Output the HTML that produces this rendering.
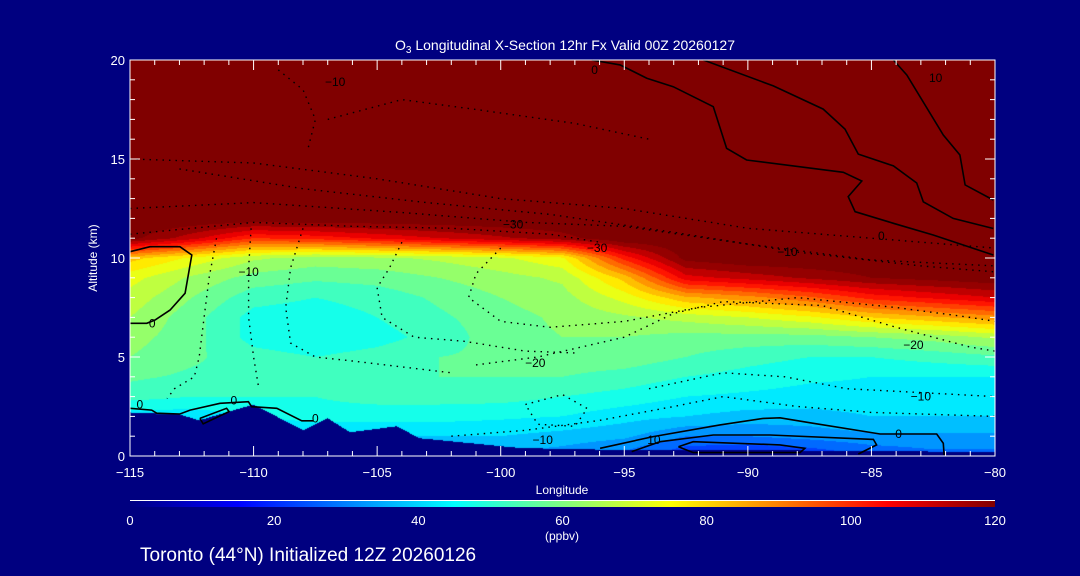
<!DOCTYPE html>
<html><head><meta charset="utf-8">
<style>
html,body{margin:0;padding:0;background:#000080;}
#wrap{position:relative;width:1080px;height:576px;background:#000080;overflow:hidden;font-family:"Liberation Sans",sans-serif;color:#fff;}
canvas{position:absolute;left:130px;top:60px;}
svg{position:absolute;left:0;top:0;}
</style></head>
<body>
<div id="wrap">
<canvas id="cv" width="865" height="396"></canvas>
<svg id="sv" width="1080" height="576"></svg>
</div>
<script>
// ---- data ----
const lons = [-115,-112.5,-110,-107.5,-105,-102.5,-100,-97.5,-95,-92.5,-90,-87.5,-85,-82.5,-80];
const alts = [0,1,2,3,4,5,6,7,8,9,10,11,12,20];
const r0 = [25,25,30,30,32,34,34,32,28,20,18,20,25,28,28];
const r1 = [32,33,36,38,40,40,40,38,36,30,30,32,34,34,34];
const r2 = [42,42,45,48,47,47,46,45,42,40,38,38,40,40,40];
const r3 = [52,50,50,50,52,52,52,50,48,45,44,43,43,42,42];
const r4 = [56,54,54,52,54,55,55,55,53,50,48,46,45,45,45];
const r5 = [60,56,52,50,52,55,56,58,58,55,52,50,50,52,54];
const r6 = [62,57,48,46,48,52,58,60,60,58,58,58,60,62,66];
const r7 = [65,57,48,47,50,54,58,61,64,67,70,74,80,84,88];
const r8 = [68,60,52,50,52,56,60,63,72,84,88,94,102,106,110];
const r9 = [72,64,58,56,57,60,63,66,82,108,112,116,120,122,124];
const r10 = [82,74,66,63,64,66,69,74,102,122,125,125,125,125,125];
const r11 = [122,112,100,102,106,110,114,118,125,125,125,125,125,125,125];
const r12 = [125,125,125,125,125,125,125,125,125,125,125,125,125,125,125];
const r20 = [125,125,125,125,125,125,125,125,125,125,125,125,125,125,125];
const rows = [r0,r1,r2,r3,r4,r5,r6,r7,r8,r9,r10,r11,r12,r20];
const terrLon = [-115,-113,-112.2,-110,-108,-107,-106.1,-104.2,-103.3,-99.2,-95,-90,-85,-80];
const terrAlt = [2.2,2.1,1.8,2.6,1.3,1.9,1.2,1.5,0.9,0.4,0.3,0.3,0.25,0.2];
const xTicks = [-115,-110,-105,-100,-95,-90,-85,-80];
const xTickLabels = ["\u2212115","\u2212110","\u2212105","\u2212100","\u221295","\u221290","\u221285","\u221280"];
const yTicks = [0,5,10,15,20];
const cbTicks = [0,20,40,60,80,100,120];
// contours [lon,alt]
const solidA = [[-96.32,20],[-95.17,19.75],[-94.09,19.08],[-93.02,18.65],[-91.40,17.64],[-90.86,15.54],[-90.05,14.95],[-86.14,14.33],[-85.39,13.89],[-85.94,13.10],[-85.66,12.34],[-84.11,11.75],[-82.50,11.16],[-80.07,10.15]];
const solidB = [[-91.80,20],[-88.97,18.69],[-86.95,17.52],[-86.07,16.51],[-85.53,15.25],[-84.11,14.65],[-83.17,13.79],[-82.90,12.84],[-81.69,12.00],[-80.07,11.49]];
const solidC = [[-84.11,20],[-83.57,19.24],[-82.09,16.21],[-81.42,15.20],[-81.21,13.69],[-80.07,12.93]];
const solidL = [[-115,10.32],[-114.19,10.57],[-112.98,10.57],[-112.50,10.15],[-112.77,8.22],[-113.38,7.37],[-113.99,6.87],[-114.32,6.70],[-115,6.70]];
const solidT = [[-115,2.41],[-114.12,2.32],[-113.92,2.16],[-112.98,2.12],[-112.57,2.32],[-111.36,2.66],[-110.21,2.74],[-110.08,2.49],[-109.06,2.41],[-108.05,1.78],[-107.58,1.78]];
const solidS = [[-112.17,1.90],[-111.09,2.41],[-110.99,2.24],[-112.04,1.62],[-112.17,1.90]];
const solidR1 = [[-95.98,0.39],[-93.83,0.98],[-91.13,1.57],[-89.37,1.90],[-88.70,1.93],[-87.35,1.65],[-84.65,1.11],[-82.36,1.11],[-82.09,0.64],[-82.06,0.05]];
const solidR2 = [[-94.70,0.22],[-93.55,0.72],[-91.40,1.06],[-89.10,1.06],[-84.92,0.84],[-84.79,0.56],[-85.53,0.10]];
const solidR3 = [[-92.81,0.47],[-92.21,0.72],[-88.70,0.56],[-87.69,0.39],[-87.89,0.17],[-92.21,0.17],[-92.81,0.47]];
const dots = [
 [[-110.1,11.5],[-110.2,9.5],[-110.2,7],[-110.0,5],[-109.8,3.5]],
 [[-111.5,11],[-111.8,9],[-112.0,7],[-112.2,5],[-112.4,4],[-113.2,3.4],[-113.5,2.9]],
 [[-108.0,11.5],[-108.5,9.5],[-108.7,7.5],[-108.5,5.7],[-107.5,5],[-106,4.8],[-104,4.5],[-102,4.2]],
 [[-104,10.8],[-104.5,9.5],[-105,8.5],[-104.8,7],[-103.5,6],[-101.5,5.8],[-99,5.3],[-97,5.2]],
 [[-100,10.5],[-101,9.2],[-101.3,8],[-100,6.8],[-98,6.5],[-95,6.8],[-92,7.5],[-88,8],[-84,7.5],[-81,7],[-80,6.8]],
 [[-101,4.6],[-98.5,5.0],[-95,6.0],[-93,7.2],[-91,7.8],[-87,7.6],[-84,6.5],[-81,5.5],[-80,5.3]],
 [[-94,3.4],[-91,4.2],[-88.5,4.0],[-86,3.4],[-83,3.2],[-80,3.0]],
 [[-102,1.0],[-99,1.3],[-96,1.8],[-93,2.5],[-91,3.0],[-88,2.5],[-85,2.2],[-80,2.0]],
 [[-99,2.6],[-97.5,3.1],[-96.5,2.4],[-97,1.5],[-98.5,1.6],[-99,2.6]],
 [[-115,15],[-110,14.8],[-105,14],[-100,13],[-95,12.5],[-90,11.5],[-85,11],[-80,10.5]],
 [[-113,14.5],[-108,13.5],[-103,12.8],[-98,12.2],[-93,11.3],[-88,10.3],[-83,9.6],[-80,9.3]],
 [[-107,17],[-104,18],[-101,17.5],[-97,16.8],[-94,16]],
 [[-115,11.2],[-110,11.8],[-106,11.6],[-102,11.5],[-98,11.2],[-96,10.8]],
 [[-109,19.5],[-108,18.5],[-107.5,17],[-107.8,15.5]],
 [[-115,12.5],[-110,12.8],[-104,12.3],[-99,11.8],[-95,11.6],[-90,10.7],[-85,9.9],[-80,9.6]]
];
const labLon = [-96.2,-106.7,-82.4,-99.5,-96.1,-88.4,-84.6,-110.2,-114.1,-114.6,-110.8,-107.5,-98.6,-83.3,-83,-98.3,-93.8,-83.9];
const labAlt = [19.5,18.9,19.1,11.7,10.5,10.3,11.1,9.3,6.7,2.6,2.8,1.9,4.7,5.6,3.0,0.8,0.8,1.1];
const labTxt = ["0","\u221210","10","\u221230","\u221230","\u221210","0","\u221210","0","0","0","0","\u221220","\u221220","\u221210","\u221210","10","0"];

// ---- axes ----
const X0=130,X1=995,Y0=456,Y1=60;
const xs = v => X0 + (v - (-115)) / 35 * (X1 - X0);
const ys = v => Y0 - v / 20 * (Y0 - Y1);
function jet(v){
  const t=Math.max(0,Math.min(1,v/120));
  const c=x=>Math.round(255*Math.max(0,Math.min(1,x)));
  return [c(1.5-Math.abs(4*t-3)),c(1.5-Math.abs(4*t-2)),c(1.5-Math.abs(4*t-1))];
}
function interp1(xa,ya,x){
  if(x<=xa[0])return ya[0];
  for(let i=1;i<xa.length;i++){ if(x<=xa[i]){const f=(x-xa[i-1])/(xa[i]-xa[i-1]);return ya[i-1]+f*(ya[i]-ya[i-1]);} }
  return ya[ya.length-1];
}
function field(lon,alt){
  let i=0; while(i<lons.length-2 && lon>lons[i+1]) i++;
  let j=0; while(j<alts.length-2 && alt>alts[j+1]) j++;
  const fx=Math.max(0,Math.min(1,(lon-lons[i])/(lons[i+1]-lons[i])));
  const fy=Math.max(0,Math.min(1,(alt-alts[j])/(alts[j+1]-alts[j])));
  const a=rows[j][i],b=rows[j][i+1],c=rows[j+1][i],d=rows[j+1][i+1];
  return (a*(1-fx)+b*fx)*(1-fy)+(c*(1-fx)+d*fx)*fy;
}
// ---- heatmap ----
const cv=document.getElementById('cv'),ctx=cv.getContext('2d');
const img=ctx.createImageData(865,396);
for(let py=0;py<396;py++){
  const alt=(Y0-(py+Y1+0.5))/(Y0-Y1)*20;
  for(let px=0;px<865;px++){
    const lon=-115+(px+0.5)/(X1-X0)*35;
    let col;
    if(alt<interp1(terrLon,terrAlt,lon)) col=[0,0,128];
    else { let v=field(lon,alt); v=Math.floor(v/5)*5+2.5; col=jet(v); }
    const k=(py*865+px)*4; img.data[k]=col[0];img.data[k+1]=col[1];img.data[k+2]=col[2];img.data[k+3]=255;
  }
}
ctx.putImageData(img,0,0);
// ---- svg ----
const NS='http://www.w3.org/2000/svg', sv=document.getElementById('sv');
function mk(tag,attrs,parent){const e=document.createElementNS(NS,tag);for(const k in attrs)e.setAttribute(k,attrs[k]);(parent||sv).appendChild(e);return e;}
function pts(a){return a.map(p=>xs(p[0]).toFixed(1)+','+ys(p[1]).toFixed(1)).join(' ');}
const gC=mk('g',{});


[solidA,solidB,solidC,solidL,solidT,solidS,solidR1,solidR2,solidR3].forEach(a=>{
  const e=mk('polyline',{points:pts(a),fill:'none',stroke:'#000','stroke-width':1.6},gC);
  
  
});
dots.forEach(a=>{
  const e=mk('polyline',{points:pts(a),fill:'none',stroke:'#000','stroke-width':1.4,'stroke-dasharray':'1.5 5'},gC);
  
  
});
labTxt.forEach((t,i)=>{
  const e=mk('text',{x:xs(labLon[i]),y:ys(labAlt[i])+4,'font-size':12,fill:'#000','text-anchor':'middle','font-family':'Liberation Sans, sans-serif'},gC);
  e.textContent=t;
  
  
});
// frame
const fr=mk('rect',{x:X0,y:Y1,width:X1-X0,height:Y0-Y1,fill:'none',stroke:'#fff','stroke-width':1});


const gA=mk('g',{stroke:'#fff','stroke-width':1});


for(let v=-115;v<=-80;v++){const L=(v%5===0)?10:5;mk('line',{x1:xs(v),x2:xs(v),y1:Y0,y2:Y0-L},gA);mk('line',{x1:xs(v),x2:xs(v),y1:Y1,y2:Y1+L},gA);}
for(let v=0;v<=20;v++){const L=(v%5===0)?10:5;mk('line',{x1:X0,x2:X0+L,y1:ys(v),y2:ys(v)},gA);mk('line',{x1:X1,x2:X1-L,y1:ys(v),y2:ys(v)},gA);}
xTicks.forEach((v,i)=>{const e=mk('text',{x:xs(v),y:477,'font-size':13,fill:'#fff','text-anchor':'middle'});e.textContent=xTickLabels[i];

});
yTicks.forEach(v=>{const e=mk('text',{x:125,y:ys(v)+5,'font-size':13,fill:'#fff','text-anchor':'end'});e.textContent=v;

});
// colorbar
const defs=mk('defs',{});const lg=mk('linearGradient',{id:'cb',x1:0,x2:1,y1:0,y2:0},defs);
for(let i=0;i<=24;i++){const c=jet(i*5);mk('stop',{offset:i/24,'stop-color':`rgb(${c})`},lg);}
mk('line',{x1:130,x2:995,y1:500.5,y2:500.5,stroke:'#fff','stroke-width':1});
const cb=mk('rect',{x:130,y:501,width:865,height:6,fill:'url(#cb)'});


cbTicks.forEach(v=>{const e=mk('text',{x:130+v/120*865,y:525,'font-size':13,fill:'#fff','text-anchor':'middle'});e.textContent=v;

});
</script>
<svg width="1080" height="576" style="position:absolute;left:0;top:0;pointer-events:none">
<text x="565" y="50" font-size="14" fill="#fff" text-anchor="middle" font-family="Liberation Sans, sans-serif">O<tspan font-size="10" dy="3">3</tspan><tspan dy="-3"> Longitudinal X-Section 12hr  Fx Valid 00Z 20260127</tspan></text>
<text x="97" y="258" font-size="12" fill="#fff" text-anchor="middle" transform="rotate(-90 97 258)" font-family="Liberation Sans, sans-serif">Altitude (km)</text>
<text x="562" y="494" font-size="12" fill="#fff" text-anchor="middle" font-family="Liberation Sans, sans-serif">Longitude</text>
<text x="562" y="540" font-size="12" fill="#fff" text-anchor="middle" font-family="Liberation Sans, sans-serif">(ppbv)</text>
<text x="140" y="561" font-size="19" fill="#fff" font-family="Liberation Sans, sans-serif">Toronto (44°N) Initialized 12Z 20260126</text>
</svg>
</body></html>
